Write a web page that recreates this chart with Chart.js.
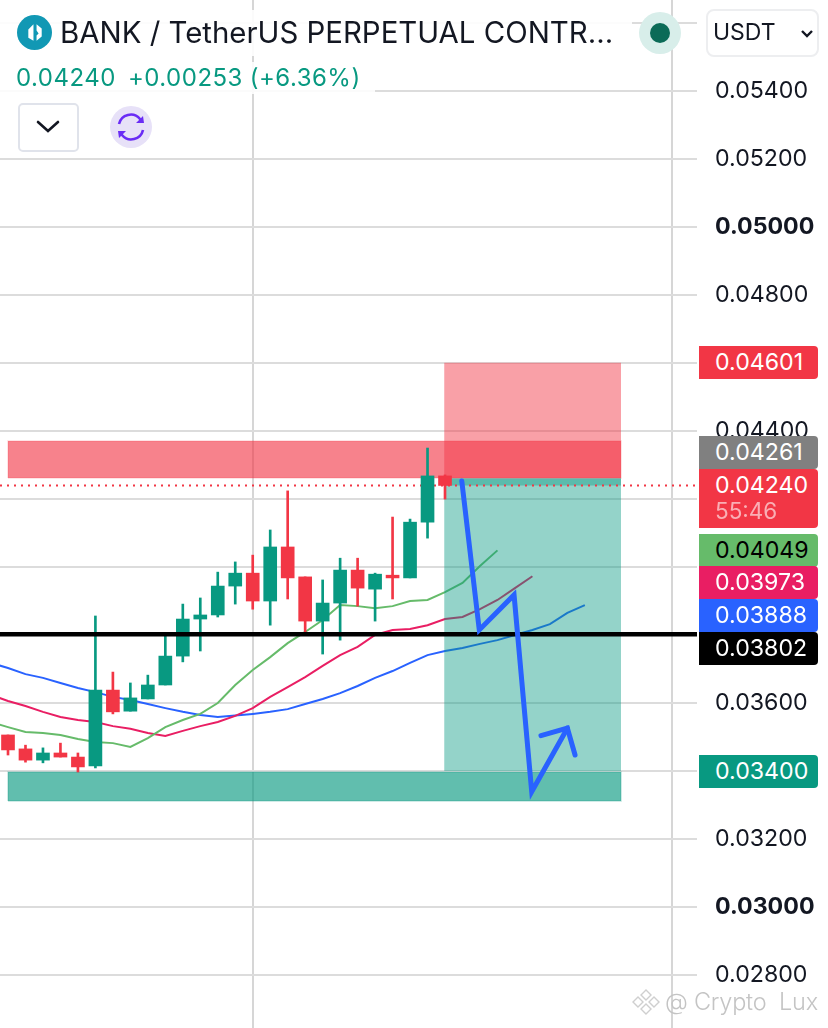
<!DOCTYPE html>
<html>
<head>
<meta charset="utf-8">
<style>
html,body{margin:0;padding:0;background:#fff;width:828px;height:1028px;overflow:hidden;font-family:Inter,"Noto Sans",sans-serif}
#wrap{position:relative;width:828px;height:1028px}
canvas{position:absolute;left:0;top:0}
.o{position:absolute;white-space:nowrap}
.tag{position:absolute;left:699px;width:119px;border-radius:0 4px 4px 0;font-size:23.2px;line-height:33px;color:#fff;box-sizing:border-box;padding-left:16px}
.tag small{display:block;font-size:22.5px;line-height:22px;opacity:.6;margin-top:-2px}
</style>
<script src="https://cdn.jsdelivr.net/npm/chart.js@4"></script>
</head>
<body>
<div id="wrap">
<canvas id="c" width="828" height="1028"></canvas>
<div class="o" style="left:0;top:10px;width:632px;height:46px;background:rgba(255,255,255,.9)"></div>
<div class="o" style="left:0;top:62px;width:375px;height:32px;background:rgba(255,255,255,.88)"></div>
<svg class="o" style="left:17px;top:15px" width="35" height="35" viewBox="0 0 34 34"><circle cx="17" cy="17" r="17" fill="#1198b4"/><path d="M11 14l5-5v16l-5-3zM19 9l5 4v8l-5 4v-5l2-2-2-3z" fill="#fff"/></svg>
<div class="o" id="title" style="left:60px;top:14px;font-size:29.4px;line-height:38px;color:#131722">BANK / TetherUS PERPETUAL CONTR...</div>
<div class="o" id="quote" style="left:16px;top:63px;font-size:24px;line-height:30px;color:#089981;letter-spacing:.5px;word-spacing:-.5px">0.04240<span style="margin-left:12px">+0.00253 (+6.36%)</span></div>
<div class="o" style="left:18px;top:103px;border:2px solid #e0e3eb;border-radius:5px;background:#fff;width:57px;height:45px"></div>
<svg class="o" style="left:36px;top:119px" width="24" height="16" viewBox="0 0 24 16"><path d="M2 3l10 9 10-9" fill="none" stroke="#131722" stroke-width="2.6" stroke-linecap="round"/></svg>
<svg class="o" style="left:110px;top:106px" width="42" height="42" viewBox="0 0 42 42"><circle cx="21" cy="21" r="21" fill="#e7e1f8"/><path d="M9 18a12 12 0 0 1 21-5l2 3M33 24a12 12 0 0 1-21 5l-2-3" fill="none" stroke="#6a2cf5" stroke-width="2.6"/><path d="M26 17l8 0 -1-7zM16 25l-8 0 1 7z" fill="#6a2cf5"/></svg>
<svg class="o" style="left:639px;top:12px" width="42" height="42" viewBox="0 0 42 42"><circle cx="21" cy="21" r="21" fill="#d8eeea"/><circle cx="21" cy="21" r="10" fill="#0b6b57"/></svg>
<div class="o" style="left:706px;top:9px;width:109px;height:44px;border:2px solid #edeef0;border-radius:8px;background:#fff"></div>
<div class="o" style="left:713px;top:17px;font-size:23px;line-height:30px;color:#131722">USDT</div>
<svg class="o" style="left:800px;top:29px" width="14" height="10" viewBox="0 0 14 10"><path d="M2 2l5 5 5-5" fill="none" stroke="#131722" stroke-width="2.4"/></svg>
<div id="tags"></div>
<svg class="o" style="left:632px;top:988px" width="28" height="28" viewBox="0 0 28 28"><g fill="#fff" stroke="#cfcfcf" stroke-width="1.4"><path d="M14 2l5 5-5 5-5-5zM14 16l5 5-5 5-5-5zM6 9l5 5-5 5-5-5zM22 9l5 5-5 5-5-5z"/></g></svg>
<div class="o" style="left:665px;top:986px;font-size:23.5px;line-height:32px;font-weight:300;color:#c4c4c4;white-space:pre;letter-spacing:-.25px">@ Crypto  Lux</div>
</div>
<script>
// Candles, oldest first
const opens  = [.03506,.03465,.03432,.03453,.03441,.03415,.03638,.03576,.03612,.03653,.03738,.03847,.03859,.03944,.03982,.03900,.04059,.03971,.03841,.03894,.03991,.03935,.03976,.03968,.04132,.04268];
const closes = [.03462,.03432,.03453,.03441,.03412,.03638,.03574,.03615,.03653,.03738,.03847,.03859,.03944,.03982,.03900,.04059,.03968,.03841,.03894,.03991,.03938,.03979,.03968,.04132,.04268,.04240];
const highs  = [.03506,.03476,.03468,.03482,.03453,.03856,.03691,.03659,.03682,.03806,.03891,.03909,.03985,.04015,.04035,.04109,.04224,.03971,.03962,.04026,.04026,.03982,.04147,.04141,.04350,.04271];
const lows   = [.03447,.03426,.03424,.03441,.03397,.03409,.03568,.03576,.03612,.03653,.03721,.03753,.03853,.03891,.03876,.03829,.03906,.03809,.03744,.03785,.03885,.03841,.03906,.03968,.04085,.04200];

// Moving averages, the first value sits one candle before the first candle
const maGreen = [.03544,.03529,.03515,.03512,.03506,.03494,.03485,.03482,.03471,.03497,.03529,.03550,.03568,.03600,.03653,.03697,.03735,.03776,.03809,.03844,.03888,.03885,.03879,.03885,.03900,.03903,.03926,.03953,.04003,.04049];
const maPink  = [.03624,.03606,.03591,.03574,.03559,.03550,.03544,.03532,.03524,.03512,.03503,.03518,.03532,.03544,.03562,.03585,.03618,.03647,.03676,.03709,.03741,.03765,.03800,.03815,.03818,.03829,.03847,.03853,.03876,.03903,.03938,.03973];
const maBlue  = [.03718,.03703,.03685,.03674,.03659,.03644,.03632,.03618,.03609,.03597,.03585,.03574,.03565,.03559,.03563,.03568,.03574,.03582,.03597,.03612,.03629,.03650,.03674,.03694,.03718,.03741,.03753,.03762,.03774,.03785,.03800,.03815,.03832,.03865,.03888];

// Drawn arrow (bar position, price)
const arrowBars   = [25.96,26.96,28.95,29.96,32.0];
const arrowPrices = [.04253,.03815,.03918,.03339,.03526];
const headBars    = [30.49,32.0,32.44];
const headPrices  = [.03504,.03526,.03447];

// Price levels
const supportPrice = .03802;
const lastPrice = .04240;
const entryPrice = .04261;
const stopPrice = .04601;
const targetPrice = .03400;
const resistanceZone = [.04262,.04371];
const supportZone = [.03312,.03397];

// Axis ticks
const gridTicks = [.028,.030,.032,.034,.036,.038,.040,.042,.044,.046,.048,.050,.052,.054,.056];
const shownTicks = ['0.02800','0.03000','0.03200','0.03600','0.04400','0.04800','0.05000','0.05200','0.05400'];
const boldTicks = ['0.03000','0.05000'];
const timeTicks = [14,38];

// Tags on the price scale
const tagPrices = ['0.04601','0.04261','0.04240','0.04049','0.03973','0.03888','0.03802','0.03400'];
const tagColors = ['#f23645','#808080','#f23645','#66bb6a','#e91e63','#2962ff','#000000','#089981'];
const tagTops   = [346,436,469,534,566,599,632,755];
const tagInk    = ['#fff','#fff','#fff','#000','#fff','#fff','#fff','#fff'];
const countdown = '55:46';

const UP = '#089981', DOWN = '#f23645';
const xMin = -0.458, xMax = 39.416, yMin = .02644, yMax = .05668;

const tagBox = document.getElementById('tags');
tagPrices.forEach((p,i)=>{
  const d = document.createElement('div');
  d.className='tag';
  d.style.top = tagTops[i]+'px';
  d.style.background = tagColors[i];
  d.style.color = tagInk[i];
  d.textContent = p;
  if (i===2){ const s=document.createElement('small'); s.textContent=countdown; d.appendChild(s); d.style.height='59px'; }
  tagBox.appendChild(d);
});

const pts = (vals,start)=>vals.map((y,i)=>({x:i+start,y}));
const line = (data,color,width,order,extra)=>Object.assign({type:'line',data,borderColor:color,borderWidth:width,pointRadius:0,tension:0,order,fill:false},extra||{});
const rect = (x0,x1,lo,hi,color,order)=>line([{x:x0,y:hi},{x:x1,y:hi}],'transparent',0,order,{fill:{value:lo},backgroundColor:color});
const outline = (x0,x1,lo,hi,color,order)=>line([{x:x0,y:lo},{x:x0,y:hi},{x:x1,y:hi},{x:x1,y:lo},{x:x0,y:lo}],color,1.5,order);

const bodyData = opens.map((o,i)=>({x:i,y:[Math.min(o,closes[i]),Math.max(o,closes[i])]}));
const wickData = opens.map((o,i)=>({x:i,y:[lows[i],highs[i]]}));
const candleColors = opens.map((o,i)=>closes[i]>=o?UP:DOWN);
const noPad = s=>{s.paddingTop=0;s.paddingBottom=0;s.paddingLeft=0;s.paddingRight=0;};

new Chart(document.getElementById('c'),{
  data:{datasets:[
    line(pts(maGreen,-1),'#66bb6a',2,60),
    line(pts(maPink,-1),'#e91e63',2,60),
    line(pts(maBlue,-1),'#2962ff',2,60),
    rect(24.95,35.07,entryPrice,stopPrice,'rgba(242,54,69,.47)',50),
    rect(24.95,35.07,targetPrice,entryPrice,'rgba(8,153,129,.43)',50),
    rect(24.95,35.07,lastPrice,entryPrice,'rgba(8,153,129,.4)',49),
    rect(0,35.07,resistanceZone[0],resistanceZone[1],'rgba(242,54,69,.62)',48),
    rect(0,35.07,supportZone[0],supportZone[1],'rgba(8,153,129,.64)',48),
    outline(0,35.07,resistanceZone[0],resistanceZone[1],'rgba(242,54,69,.18)',47),
    outline(0,35.07,supportZone[0],supportZone[1],'rgba(8,153,129,.25)',47),
    line([{x:xMin,y:lastPrice},{x:xMax,y:lastPrice}],DOWN,2,30,{borderDash:[2,5]}),
    {type:'bar',data:wickData,backgroundColor:candleColors,barThickness:2,grouped:false,order:20},
    {type:'bar',data:bodyData,backgroundColor:candleColors,barThickness:13,grouped:false,order:19},
    line([{x:xMin,y:supportPrice},{x:xMax,y:supportPrice}],'#000000',4.5,10),
    line(arrowBars.map((x,i)=>({x,y:arrowPrices[i]})),'#2962ff',5,5,{borderJoinStyle:'miter',borderCapStyle:'round'}),
    line(headBars.map((x,i)=>({x,y:headPrices[i]})),'#2962ff',5,5,{borderJoinStyle:'miter',borderCapStyle:'round'})
  ]},
  options:{
    responsive:false,animation:false,
    devicePixelRatio:1,
    layout:{padding:0},
    plugins:{legend:{display:false},tooltip:{enabled:false},title:{display:false}},
    scales:{
      x:{type:'linear',min:xMin,max:xMax,offset:false,
        border:{display:false},
        grid:{color:'#d6d6d6',lineWidth:2,drawTicks:false,offset:false},
        ticks:{display:false},
        afterBuildTicks:s=>{s.ticks=timeTicks.map(value=>({value}));},
        afterFit:s=>{s.height=0;noPad(s);}
      },
      y:{type:'linear',position:'right',min:yMin,max:yMax,
        border:{display:false},
        grid:{color:'#dcdcdc',lineWidth:2,drawTicks:false},
        afterBuildTicks:s=>{s.ticks=gridTicks.map(value=>({value}));},
        afterFit:s=>{s.width=131;noPad(s);},
        ticks:{
          autoSkip:false,crossAlign:'near',padding:18,color:'#131722',
          callback:v=>shownTicks.includes(v.toFixed(5))?v.toFixed(5):'',
          font:ctx=>({family:'Inter',size:23.2,weight:ctx.tick&&boldTicks.includes(ctx.tick.value.toFixed(5))?'700':'400'})
        }
      }
    }
  }
});
</script>
</body>
</html>
